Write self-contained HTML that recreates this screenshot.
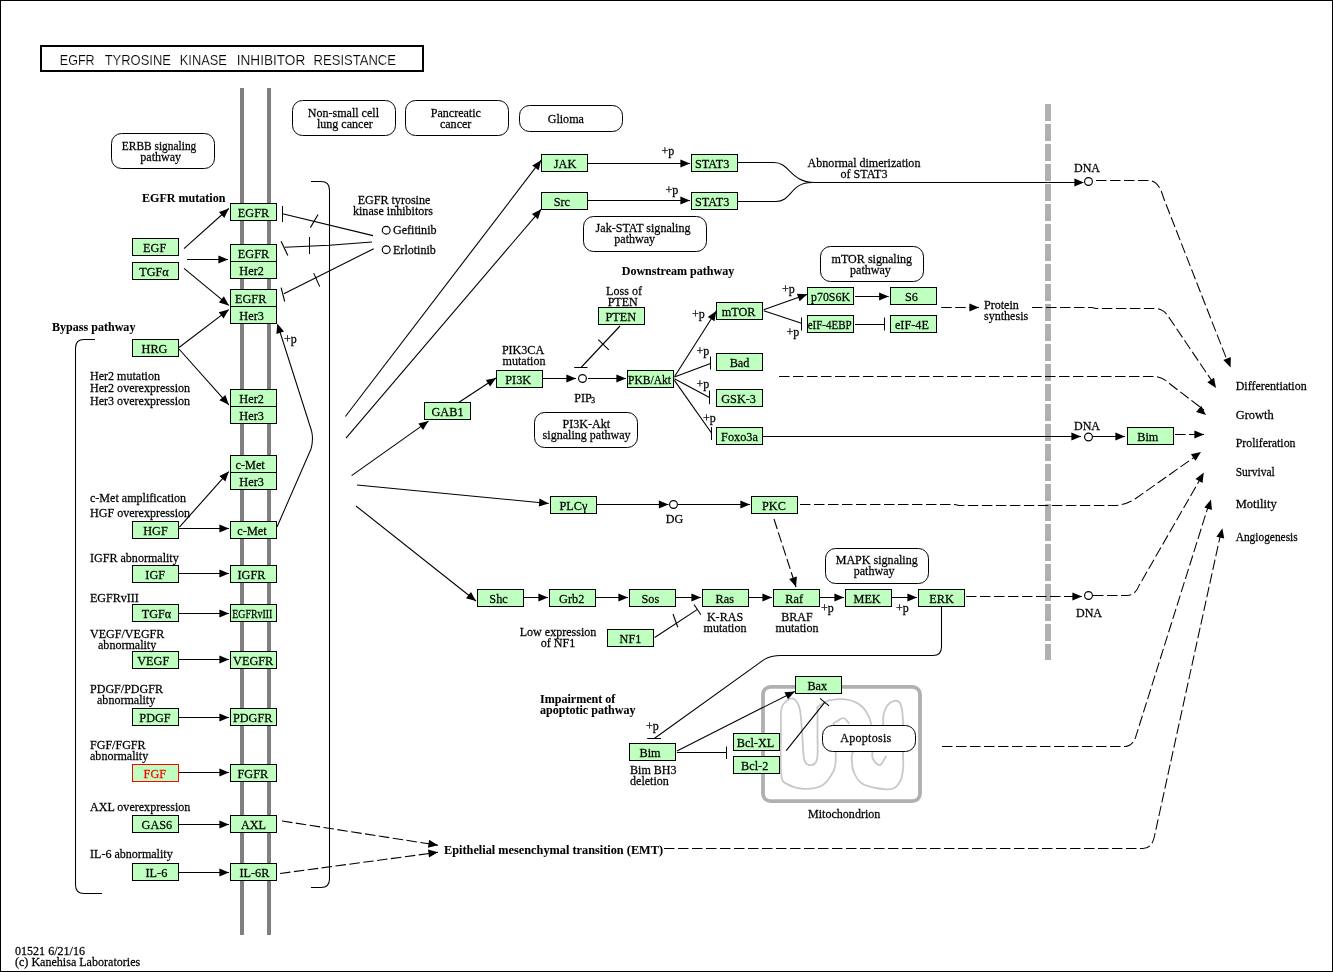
<!DOCTYPE html>
<html><head><meta charset="utf-8"><title>EGFR tyrosine kinase inhibitor resistance</title>
<style>
html,body{margin:0;padding:0;background:#fff;}
svg{display:block;font-family:"Liberation Serif",serif;font-size:13.33px;will-change:transform;}
svg text{stroke:#000;stroke-width:0.25px;}
svg text[font-weight="bold"]{stroke-width:0.08px;}
svg text[fill="#ff0000"]{stroke:#ff0000;}
svg text.ttl{font-family:"Liberation Sans",sans-serif;stroke:#fff;stroke-width:0.15px;}
</style></head><body>
<svg width="1333" height="972" viewBox="0 0 1333 972">
<rect x="0.5" y="0.5" width="1332" height="971" fill="#fff" stroke="#000" stroke-width="1" shape-rendering="crispEdges"/>
<rect x="41" y="46" width="382" height="25" fill="#fff" stroke="#000" stroke-width="2" shape-rendering="crispEdges"/>
<text x="59.8" y="65" font-size="14.2" textLength="34.8" lengthAdjust="spacingAndGlyphs" class="ttl">EGFR</text>
<text x="104.7" y="65" font-size="14.2" textLength="66.2" lengthAdjust="spacingAndGlyphs" class="ttl">TYROSINE</text>
<text x="179.8" y="65" font-size="14.2" textLength="47.1" lengthAdjust="spacingAndGlyphs" class="ttl">KINASE</text>
<text x="236.7" y="65" font-size="14.2" textLength="68.6" lengthAdjust="spacingAndGlyphs" class="ttl">INHIBITOR</text>
<text x="313.6" y="65" font-size="14.2" textLength="82.4" lengthAdjust="spacingAndGlyphs" class="ttl">RESISTANCE</text>
<rect x="240" y="88" width="4" height="847" fill="#808080" shape-rendering="crispEdges"/>
<rect x="267" y="88" width="4" height="847" fill="#808080" shape-rendering="crispEdges"/>
<rect x="1045" y="104" width="6" height="17" fill="#b0b0b0" shape-rendering="crispEdges"/>
<rect x="1045" y="124" width="6" height="17" fill="#b0b0b0" shape-rendering="crispEdges"/>
<rect x="1045" y="144" width="6" height="17" fill="#b0b0b0" shape-rendering="crispEdges"/>
<rect x="1045" y="164" width="6" height="17" fill="#b0b0b0" shape-rendering="crispEdges"/>
<rect x="1045" y="184" width="6" height="17" fill="#b0b0b0" shape-rendering="crispEdges"/>
<rect x="1045" y="204" width="6" height="17" fill="#b0b0b0" shape-rendering="crispEdges"/>
<rect x="1045" y="224" width="6" height="17" fill="#b0b0b0" shape-rendering="crispEdges"/>
<rect x="1045" y="244" width="6" height="17" fill="#b0b0b0" shape-rendering="crispEdges"/>
<rect x="1045" y="264" width="6" height="17" fill="#b0b0b0" shape-rendering="crispEdges"/>
<rect x="1045" y="284" width="6" height="17" fill="#b0b0b0" shape-rendering="crispEdges"/>
<rect x="1045" y="304" width="6" height="17" fill="#b0b0b0" shape-rendering="crispEdges"/>
<rect x="1045" y="324" width="6" height="17" fill="#b0b0b0" shape-rendering="crispEdges"/>
<rect x="1045" y="344" width="6" height="17" fill="#b0b0b0" shape-rendering="crispEdges"/>
<rect x="1045" y="364" width="6" height="17" fill="#b0b0b0" shape-rendering="crispEdges"/>
<rect x="1045" y="384" width="6" height="17" fill="#b0b0b0" shape-rendering="crispEdges"/>
<rect x="1045" y="404" width="6" height="17" fill="#b0b0b0" shape-rendering="crispEdges"/>
<rect x="1045" y="424" width="6" height="17" fill="#b0b0b0" shape-rendering="crispEdges"/>
<rect x="1045" y="444" width="6" height="17" fill="#b0b0b0" shape-rendering="crispEdges"/>
<rect x="1045" y="464" width="6" height="17" fill="#b0b0b0" shape-rendering="crispEdges"/>
<rect x="1045" y="484" width="6" height="17" fill="#b0b0b0" shape-rendering="crispEdges"/>
<rect x="1045" y="504" width="6" height="17" fill="#b0b0b0" shape-rendering="crispEdges"/>
<rect x="1045" y="524" width="6" height="17" fill="#b0b0b0" shape-rendering="crispEdges"/>
<rect x="1045" y="544" width="6" height="17" fill="#b0b0b0" shape-rendering="crispEdges"/>
<rect x="1045" y="564" width="6" height="17" fill="#b0b0b0" shape-rendering="crispEdges"/>
<rect x="1045" y="584" width="6" height="17" fill="#b0b0b0" shape-rendering="crispEdges"/>
<rect x="1045" y="604" width="6" height="17" fill="#b0b0b0" shape-rendering="crispEdges"/>
<rect x="1045" y="624" width="6" height="17" fill="#b0b0b0" shape-rendering="crispEdges"/>
<rect x="1045" y="644" width="6" height="16" fill="#b0b0b0" shape-rendering="crispEdges"/>
<rect x="763" y="686.8" width="157" height="114.4" rx="7.5" ry="7.5" fill="#fff" stroke="#b0b0b0" stroke-width="3.8"/>
<path d="M817.5,707.0 C817.5,711.8 817.5,727.2 817.5,735.8 C817.4,744.5 818.2,754.0 817.1,758.9 C816.1,763.8 813.0,765.0 810.9,765.1 C808.8,765.3 805.7,764.6 804.3,759.7 C802.9,754.8 803.0,743.9 802.3,735.8 C801.7,727.7 801.1,716.8 800.2,711.1 C799.3,705.5 798.3,704.2 796.9,702.1 C795.5,700.0 793.9,698.3 792.0,698.3 C790.0,698.3 787.2,700.2 785.4,702.1 C783.6,704.0 782.0,703.9 781.3,709.5 C780.5,715.1 780.9,724.9 780.9,735.8 C780.9,746.8 780.1,767.2 781.3,775.3 C782.4,783.4 784.0,782.1 787.9,784.4 C791.7,786.6 798.6,788.7 804.3,788.8 C810.1,789.0 817.6,788.0 822.4,785.2 C827.2,782.4 830.9,775.9 833.1,772.0 C835.3,768.2 835.2,765.7 835.6,762.2 C836.0,758.6 835.7,755.0 835.6,750.6 C835.4,746.3 835.2,740.1 834.8,735.8 C834.3,731.6 832.7,727.6 833.1,725.1 C833.5,722.7 835.4,722.2 837.2,721.0 C839.0,719.8 841.9,717.7 843.8,718.1 C845.7,718.4 847.9,722.2 848.7,723.0" fill="none" stroke="#c8c8c8" stroke-width="1.8" stroke-linecap="round"/>
<path d="M817.5,707.0 C818.3,706.5 820.5,704.8 822.4,703.7 C824.3,702.6 825.2,701.2 829.0,700.4 C832.8,699.7 840.8,698.9 845.5,699.3 C850.1,699.7 853.7,701.1 857.0,702.9 C860.3,704.8 862.9,706.8 865.2,710.3 C867.5,713.9 871.0,719.5 871.0,724.3 C871.0,729.1 868.2,734.5 865.2,739.1 C862.2,743.8 855.1,748.5 852.9,752.3 C850.7,756.1 851.9,758.9 852.0,762.2 C852.2,765.5 852.0,768.5 853.7,772.0 C855.3,775.6 857.8,780.8 861.9,783.6 C866.0,786.3 873.2,787.7 878.4,788.5 C883.6,789.3 889.5,789.9 893.2,788.5 C896.9,787.1 898.9,783.6 900.6,780.3 C902.2,777.0 902.6,773.4 903.1,768.7 C903.5,764.1 903.1,759.7 903.1,752.3 C903.1,744.9 903.2,731.2 903.1,724.3 C902.9,717.5 902.8,714.8 902.2,711.1 C901.7,707.5 901.1,704.3 899.8,702.6 C898.4,700.9 896.1,700.5 894.0,700.9 C892.0,701.4 889.2,703.1 887.4,705.4 C885.7,707.6 884.4,711.1 883.6,714.4 C882.9,717.7 883.6,721.0 883.0,725.1 C882.4,729.2 881.7,734.6 880.0,739.1 C878.3,743.7 873.7,748.9 872.6,752.3 C871.5,755.7 872.2,757.6 873.4,759.7 C874.7,761.8 878.0,765.7 880.0,765.1 C882.1,764.6 884.8,757.9 885.8,756.4" fill="none" stroke="#c8c8c8" stroke-width="1.8" stroke-linecap="round"/>
<rect x="292.5" y="100.5" width="103.0" height="35.0" rx="10" ry="10" fill="#fff" stroke="#000" stroke-width="1"/>
<text transform="translate(307.70 117.20) scale(0.905 1)">Non-small cell</text>
<text transform="translate(316.90 128.40) scale(0.905 1)">lung cancer</text>
<rect x="405.5" y="100.5" width="103.0" height="35.0" rx="10" ry="10" fill="#fff" stroke="#000" stroke-width="1"/>
<text transform="translate(430.70 117.20) scale(0.905 1)">Pancreatic</text>
<text transform="translate(439.90 128.40) scale(0.905 1)">cancer</text>
<rect x="519.5" y="105.5" width="103.0" height="26.0" rx="10" ry="10" fill="#fff" stroke="#000" stroke-width="1"/>
<text transform="translate(547.70 123.00) scale(0.905 1)">Glioma</text>
<rect x="111.5" y="133.5" width="103.0" height="35.0" rx="10" ry="10" fill="#fff" stroke="#000" stroke-width="1"/>
<text transform="translate(121.80 149.50) scale(0.905 1)" textLength="82.32" lengthAdjust="spacingAndGlyphs">ERBB signaling</text>
<text transform="translate(140.30 160.50) scale(0.905 1)">pathway</text>
<rect x="583.5" y="216.5" width="123.0" height="35.0" rx="10" ry="10" fill="#fff" stroke="#000" stroke-width="1"/>
<text transform="translate(595.60 232.40) scale(0.905 1)">Jak-STAT signaling</text>
<text transform="translate(614.30 243.40) scale(0.905 1)">pathway</text>
<rect x="820.5" y="246.5" width="103.0" height="35.0" rx="10" ry="10" fill="#fff" stroke="#000" stroke-width="1"/>
<text transform="translate(831.60 262.80) scale(0.905 1)">mTOR signaling</text>
<text transform="translate(850.00 273.90) scale(0.905 1)">pathway</text>
<rect x="534.5" y="412.5" width="103.0" height="35.0" rx="10" ry="10" fill="#fff" stroke="#000" stroke-width="1"/>
<text transform="translate(562.60 427.60) scale(0.905 1)">PI3K-Akt</text>
<text transform="translate(542.60 438.80) scale(0.905 1)">signaling pathway</text>
<rect x="825.5" y="548.5" width="103.0" height="35.0" rx="10" ry="10" fill="#fff" stroke="#000" stroke-width="1"/>
<text transform="translate(835.70 563.60) scale(0.905 1)">MAPK signaling</text>
<text transform="translate(853.70 574.70) scale(0.905 1)">pathway</text>
<rect x="822.5" y="725.5" width="93.0" height="26.0" rx="10" ry="10" fill="#fff" stroke="#000" stroke-width="1"/>
<text transform="translate(840.20 741.90) scale(0.905 1)" textLength="56.35" lengthAdjust="spacing">Apoptosis</text>
<path d="M311,181.5 H321 Q329.5,181.5 329.5,190 V879 Q329.5,887.5 321,887.5 H311" fill="none" stroke="#000" stroke-width="1.05"/>
<path d="M95,339.5 H84 Q75.5,339.5 75.5,348 V885 Q75.5,893.5 84,893.5 H102" fill="none" stroke="#000" stroke-width="1.05"/>
<line x1="184" y1="248.6" x2="228.8" y2="208.5" stroke="#000" stroke-width="1.1"/>
<polygon points="228.8,208.5 224.3,217.9 219.0,211.9" fill="#000"/>
<line x1="187" y1="259.5" x2="228" y2="259.5" stroke="#000" stroke-width="1"/>
<polygon points="228.0,259.5 218.4,263.5 218.4,255.5" fill="#000"/>
<line x1="184" y1="268.4" x2="228.8" y2="305.4" stroke="#000" stroke-width="1.1"/>
<polygon points="228.8,305.4 218.9,302.4 223.9,296.2" fill="#000"/>
<line x1="179" y1="347.5" x2="228.8" y2="309.6" stroke="#000" stroke-width="1.1"/>
<polygon points="228.8,309.6 223.6,318.6 218.7,312.2" fill="#000"/>
<line x1="179" y1="349" x2="228.8" y2="404.8" stroke="#000" stroke-width="1.1"/>
<polygon points="228.8,404.8 219.4,400.3 225.4,395.0" fill="#000"/>
<line x1="179.4" y1="527.2" x2="228.8" y2="471.6" stroke="#000" stroke-width="1.1"/>
<polygon points="228.8,471.6 225.4,481.4 219.4,476.1" fill="#000"/>
<line x1="179" y1="528.5" x2="229" y2="528.5" stroke="#000" stroke-width="1"/>
<polygon points="229.0,528.5 219.4,532.5 219.4,524.5" fill="#000"/>
<line x1="179" y1="573.5" x2="229" y2="573.5" stroke="#000" stroke-width="1"/>
<polygon points="229.0,573.5 219.4,577.5 219.4,569.5" fill="#000"/>
<line x1="179" y1="613.5" x2="229" y2="613.5" stroke="#000" stroke-width="1"/>
<polygon points="229.0,613.5 219.4,617.5 219.4,609.5" fill="#000"/>
<line x1="179" y1="659.5" x2="229" y2="659.5" stroke="#000" stroke-width="1"/>
<polygon points="229.0,659.5 219.4,663.5 219.4,655.5" fill="#000"/>
<line x1="179" y1="717.5" x2="229" y2="717.5" stroke="#000" stroke-width="1"/>
<polygon points="229.0,717.5 219.4,721.5 219.4,713.5" fill="#000"/>
<line x1="179" y1="772.5" x2="229" y2="772.5" stroke="#000" stroke-width="1"/>
<polygon points="229.0,772.5 219.4,776.5 219.4,768.5" fill="#000"/>
<line x1="179" y1="824.5" x2="229" y2="824.5" stroke="#000" stroke-width="1"/>
<polygon points="229.0,824.5 219.4,828.5 219.4,820.5" fill="#000"/>
<line x1="179" y1="872.5" x2="229" y2="872.5" stroke="#000" stroke-width="1"/>
<polygon points="229.0,872.5 219.4,876.5 219.4,868.5" fill="#000"/>
<path d="M277,527 L311,449 Q313.6,440 311.6,431 L280,332" fill="none" stroke="#000" stroke-width="1.05"/>
<polygon points="277.3,323.5 284.0,331.4 276.4,333.9" fill="#000"/>
<text transform="translate(284.00 342.50) scale(0.905 1)">+p</text>
<rect x="230.5" y="203.5" width="46" height="17" fill="#bfffbf" stroke="#000" stroke-width="1" shape-rendering="crispEdges"/>
<text transform="translate(253.50 216.50) scale(0.92 1)" text-anchor="middle">EGFR</text>
<rect x="132.5" y="238.5" width="46" height="17" fill="#bfffbf" stroke="#000" stroke-width="1" shape-rendering="crispEdges"/>
<text transform="translate(154.70 251.50) scale(0.92 1)" text-anchor="middle">EGF</text>
<rect x="132.5" y="262.5" width="46" height="17" fill="#bfffbf" stroke="#000" stroke-width="1" shape-rendering="crispEdges"/>
<text transform="translate(154.00 275.50) scale(0.92 1)" text-anchor="middle">TGF&#945;</text>
<rect x="230.5" y="244.5" width="46" height="17" fill="#bfffbf" stroke="#000" stroke-width="1" shape-rendering="crispEdges"/>
<text transform="translate(253.50 257.50) scale(0.92 1)" text-anchor="middle">EGFR</text>
<rect x="230.5" y="261.5" width="46" height="17" fill="#bfffbf" stroke="#000" stroke-width="1" shape-rendering="crispEdges"/>
<text transform="translate(251.60 274.50) scale(0.92 1)" text-anchor="middle">Her2</text>
<rect x="230.5" y="289.5" width="46" height="17" fill="#bfffbf" stroke="#000" stroke-width="1" shape-rendering="crispEdges"/>
<text transform="translate(250.70 302.50) scale(0.92 1)" text-anchor="middle">EGFR</text>
<rect x="230.5" y="306.5" width="46" height="17" fill="#bfffbf" stroke="#000" stroke-width="1" shape-rendering="crispEdges"/>
<text transform="translate(251.60 319.50) scale(0.92 1)" text-anchor="middle">Her3</text>
<rect x="132.5" y="339.5" width="46" height="17" fill="#bfffbf" stroke="#000" stroke-width="1" shape-rendering="crispEdges"/>
<text transform="translate(154.50 352.50) scale(0.92 1)" text-anchor="middle">HRG</text>
<rect x="230.5" y="389.5" width="46" height="17" fill="#bfffbf" stroke="#000" stroke-width="1" shape-rendering="crispEdges"/>
<text transform="translate(251.60 402.50) scale(0.92 1)" text-anchor="middle">Her2</text>
<rect x="230.5" y="406.5" width="46" height="17" fill="#bfffbf" stroke="#000" stroke-width="1" shape-rendering="crispEdges"/>
<text transform="translate(251.60 419.50) scale(0.92 1)" text-anchor="middle">Her3</text>
<rect x="230.5" y="455.5" width="46" height="17" fill="#bfffbf" stroke="#000" stroke-width="1" shape-rendering="crispEdges"/>
<text transform="translate(250.10 468.50) scale(0.92 1)" text-anchor="middle">c-Met</text>
<rect x="230.5" y="472.5" width="46" height="17" fill="#bfffbf" stroke="#000" stroke-width="1" shape-rendering="crispEdges"/>
<text transform="translate(251.60 485.50) scale(0.92 1)" text-anchor="middle">Her3</text>
<rect x="132.5" y="521.5" width="46" height="17" fill="#bfffbf" stroke="#000" stroke-width="1" shape-rendering="crispEdges"/>
<text transform="translate(155.50 534.50) scale(0.92 1)" text-anchor="middle">HGF</text>
<rect x="230.5" y="521.5" width="46" height="17" fill="#bfffbf" stroke="#000" stroke-width="1" shape-rendering="crispEdges"/>
<text transform="translate(252.00 534.50) scale(0.92 1)" text-anchor="middle">c-Met</text>
<rect x="132.5" y="565.5" width="46" height="17" fill="#bfffbf" stroke="#000" stroke-width="1" shape-rendering="crispEdges"/>
<text transform="translate(155.20 578.50) scale(0.92 1)" text-anchor="middle">IGF</text>
<rect x="230.5" y="565.5" width="46" height="17" fill="#bfffbf" stroke="#000" stroke-width="1" shape-rendering="crispEdges"/>
<text transform="translate(251.50 578.50) scale(0.92 1)" text-anchor="middle">IGFR</text>
<rect x="132.5" y="604.5" width="46" height="17" fill="#bfffbf" stroke="#000" stroke-width="1" shape-rendering="crispEdges"/>
<text transform="translate(156.50 617.50) scale(0.92 1)" text-anchor="middle">TGF&#945;</text>
<rect x="230.5" y="604.5" width="46" height="17" fill="#bfffbf" stroke="#000" stroke-width="1" shape-rendering="crispEdges"/>
<text transform="translate(252.30 617.50) scale(0.92 1)" textLength="43.48" lengthAdjust="spacingAndGlyphs" text-anchor="middle">EGFRvIII</text>
<rect x="132.5" y="651.5" width="46" height="17" fill="#bfffbf" stroke="#000" stroke-width="1" shape-rendering="crispEdges"/>
<text transform="translate(153.20 664.50) scale(0.92 1)" text-anchor="middle">VEGF</text>
<rect x="230.5" y="651.5" width="46" height="17" fill="#bfffbf" stroke="#000" stroke-width="1" shape-rendering="crispEdges"/>
<text transform="translate(253.20 664.50) scale(0.92 1)" text-anchor="middle">VEGFR</text>
<rect x="132.5" y="708.5" width="46" height="17" fill="#bfffbf" stroke="#000" stroke-width="1" shape-rendering="crispEdges"/>
<text transform="translate(155.00 721.50) scale(0.92 1)" text-anchor="middle">PDGF</text>
<rect x="230.5" y="708.5" width="46" height="17" fill="#bfffbf" stroke="#000" stroke-width="1" shape-rendering="crispEdges"/>
<text transform="translate(252.70 721.50) scale(0.92 1)" text-anchor="middle">PDGFR</text>
<rect x="132.5" y="764.5" width="46" height="17" fill="#bfffbf" stroke="#ff0000" stroke-width="1" shape-rendering="crispEdges"/>
<text transform="translate(154.80 777.50) scale(0.92 1)" fill="#ff0000" text-anchor="middle">FGF</text>
<rect x="230.5" y="764.5" width="46" height="17" fill="#bfffbf" stroke="#000" stroke-width="1" shape-rendering="crispEdges"/>
<text transform="translate(252.80 777.50) scale(0.92 1)" text-anchor="middle">FGFR</text>
<rect x="132.5" y="815.5" width="46" height="17" fill="#bfffbf" stroke="#000" stroke-width="1" shape-rendering="crispEdges"/>
<text transform="translate(156.90 828.50) scale(0.92 1)" text-anchor="middle">GAS6</text>
<rect x="230.5" y="815.5" width="46" height="17" fill="#bfffbf" stroke="#000" stroke-width="1" shape-rendering="crispEdges"/>
<text transform="translate(253.50 828.50) scale(0.92 1)" text-anchor="middle">AXL</text>
<rect x="132.5" y="863.5" width="46" height="17" fill="#bfffbf" stroke="#000" stroke-width="1" shape-rendering="crispEdges"/>
<text transform="translate(156.40 876.50) scale(0.92 1)" text-anchor="middle">IL-6</text>
<rect x="230.5" y="863.5" width="46" height="17" fill="#bfffbf" stroke="#000" stroke-width="1" shape-rendering="crispEdges"/>
<text transform="translate(254.40 876.50) scale(0.92 1)" text-anchor="middle">IL-6R</text>
<text transform="translate(142.00 202.00) scale(0.905 1)" font-weight="bold">EGFR mutation</text>
<text transform="translate(52.00 331.00) scale(0.905 1)" font-weight="bold">Bypass pathway</text>
<text transform="translate(90.00 380.00) scale(0.905 1)">Her2 mutation</text>
<text transform="translate(90.00 392.00) scale(0.905 1)">Her2 overexpression</text>
<text transform="translate(90.00 405.00) scale(0.905 1)">Her3 overexpression</text>
<text transform="translate(90.00 502.00) scale(0.905 1)">c-Met amplification</text>
<text transform="translate(90.00 517.00) scale(0.905 1)">HGF overexpression</text>
<text transform="translate(90.00 562.00) scale(0.905 1)">IGFR abnormality</text>
<text transform="translate(90.00 602.00) scale(0.905 1)">EGFRvIII</text>
<text transform="translate(90.00 638.00) scale(0.905 1)">VEGF/VEGFR</text>
<text transform="translate(98.00 649.00) scale(0.905 1)">abnormality</text>
<text transform="translate(90.00 693.00) scale(0.905 1)">PDGF/PDGFR</text>
<text transform="translate(97.00 704.00) scale(0.905 1)">abnormality</text>
<text transform="translate(90.00 749.00) scale(0.905 1)">FGF/FGFR</text>
<text transform="translate(90.00 760.00) scale(0.905 1)">abnormality</text>
<text transform="translate(90.00 811.00) scale(0.905 1)">AXL overexpression</text>
<text transform="translate(90.00 858.00) scale(0.905 1)">IL-6 abnormality</text>
<text transform="translate(394.00 204.00) scale(0.905 1)" text-anchor="middle">EGFR tyrosine</text>
<text transform="translate(393.00 215.00) scale(0.905 1)" text-anchor="middle">kinase inhibitors</text>
<circle cx="386.2" cy="230.2" r="3.9" fill="#fff" stroke="#000" stroke-width="1.15"/>
<text transform="translate(393.00 234.00) scale(0.905 1)">Gefitinib</text>
<circle cx="386.2" cy="249.7" r="3.9" fill="#fff" stroke="#000" stroke-width="1.15"/>
<text transform="translate(393.00 254.00) scale(0.905 1)">Erlotinib</text>
<line x1="373" y1="235.6" x2="282.5" y2="213.7" stroke="#000" stroke-width="1.1"/>
<line x1="282.5" y1="206" x2="282.5" y2="222" stroke="#000" stroke-width="1"/>
<line x1="318" y1="214.5" x2="310.4" y2="227.6" stroke="#000" stroke-width="1.1"/>
<path d="M372,242.1 L329.4,245.3 L284.7,247.2" fill="none" stroke="#000" stroke-width="1.05"/>
<line x1="281.1" y1="241.3" x2="287.8" y2="255.4" stroke="#000" stroke-width="1.1"/>
<line x1="309.5" y1="237" x2="309.5" y2="254" stroke="#000" stroke-width="1"/>
<line x1="373.7" y1="248.7" x2="283.9" y2="293.8" stroke="#000" stroke-width="1.1"/>
<line x1="281.1" y1="287.6" x2="284.7" y2="301.5" stroke="#000" stroke-width="1.1"/>
<line x1="313.7" y1="273.1" x2="319.7" y2="286.6" stroke="#000" stroke-width="1.1"/>
<line x1="345.4" y1="416.5" x2="541.2" y2="160.2" stroke="#000" stroke-width="1.1"/>
<polygon points="541.2,160.2 538.6,170.3 532.2,165.4" fill="#000"/>
<line x1="346" y1="438.2" x2="541.2" y2="209.3" stroke="#000" stroke-width="1.1"/>
<polygon points="541.2,209.3 538.0,219.2 531.9,214.0" fill="#000"/>
<line x1="351.6" y1="475.6" x2="428.5" y2="421.1" stroke="#000" stroke-width="1.1"/>
<polygon points="428.5,421.1 423.0,429.9 418.4,423.4" fill="#000"/>
<line x1="357" y1="485" x2="548.7" y2="503.5" stroke="#000" stroke-width="1.1"/>
<polygon points="548.7,503.5 538.8,506.6 539.5,498.6" fill="#000"/>
<line x1="356" y1="506" x2="476" y2="601" stroke="#000" stroke-width="1.1"/>
<polygon points="476.0,601.0 466.0,598.2 471.0,591.9" fill="#000"/>
<rect x="541.5" y="154.5" width="46" height="17" fill="#bfffbf" stroke="#000" stroke-width="1" shape-rendering="crispEdges"/>
<text transform="translate(565.00 167.50) scale(0.92 1)" text-anchor="middle">JAK</text>
<rect x="541.5" y="192.5" width="46" height="17" fill="#bfffbf" stroke="#000" stroke-width="1" shape-rendering="crispEdges"/>
<text transform="translate(561.80 205.50) scale(0.92 1)" text-anchor="middle">Src</text>
<rect x="691.5" y="154.5" width="46" height="17" fill="#bfffbf" stroke="#000" stroke-width="1" shape-rendering="crispEdges"/>
<text transform="translate(712.20 167.50) scale(0.92 1)" text-anchor="middle">STAT3</text>
<rect x="691.5" y="192.5" width="46" height="17" fill="#bfffbf" stroke="#000" stroke-width="1" shape-rendering="crispEdges"/>
<text transform="translate(712.20 205.50) scale(0.92 1)" text-anchor="middle">STAT3</text>
<line x1="588" y1="163.5" x2="690" y2="163.5" stroke="#000" stroke-width="1"/>
<polygon points="690.0,163.5 680.4,167.5 680.4,159.5" fill="#000"/>
<line x1="588" y1="200.5" x2="690" y2="200.5" stroke="#000" stroke-width="1"/>
<polygon points="690.0,200.5 680.4,204.5 680.4,196.5" fill="#000"/>
<text transform="translate(661.50 154.50) scale(0.905 1)">+p</text>
<text transform="translate(665.50 194.30) scale(0.905 1)">+p</text>
<path d="M738,162.5 H774 C790,162.5 790,182.5 815,182.5 H1078" fill="none" stroke="#000" stroke-width="1.05"/>
<path d="M738,201.5 H776 C792,201.5 790,182.5 812,182.5" fill="none" stroke="#000" stroke-width="1.05"/>
<polygon points="1084.0,182.5 1074.4,186.5 1074.4,178.5" fill="#000"/>
<circle cx="1088.5" cy="181.5" r="3.9" fill="#fff" stroke="#000" stroke-width="1.15"/>
<text transform="translate(1087.00 172.00) scale(0.905 1)" text-anchor="middle">DNA</text>
<text transform="translate(864.00 167.00) scale(0.905 1)" text-anchor="middle">Abnormal dimerization</text>
<text transform="translate(864.00 178.00) scale(0.905 1)" text-anchor="middle">of STAT3</text>
<path d="M1096,180.5 H1149 Q1159,181 1163.5,197.8 L1227,360" fill="none" stroke="#000" stroke-width="1.05" stroke-dasharray="10.5,3.5"/>
<polygon points="1230.6,367.5 1223.4,360.0 1230.8,357.1" fill="#000"/>
<text transform="translate(678.00 275.00) scale(0.905 1)" font-weight="bold" text-anchor="middle">Downstream pathway</text>
<rect x="424.5" y="402.5" width="46" height="17" fill="#bfffbf" stroke="#000" stroke-width="1" shape-rendering="crispEdges"/>
<text transform="translate(447.50 415.50) scale(0.92 1)" text-anchor="middle">GAB1</text>
<rect x="496.5" y="370.5" width="46" height="17" fill="#bfffbf" stroke="#000" stroke-width="1" shape-rendering="crispEdges"/>
<text transform="translate(518.20 383.50) scale(0.92 1)" text-anchor="middle">PI3K</text>
<rect x="598.5" y="307.5" width="46" height="17" fill="#bfffbf" stroke="#000" stroke-width="1" shape-rendering="crispEdges"/>
<text transform="translate(620.80 320.50) scale(0.92 1)" text-anchor="middle">PTEN</text>
<rect x="627.5" y="370.5" width="46" height="17" fill="#bfffbf" stroke="#000" stroke-width="1" shape-rendering="crispEdges"/>
<text transform="translate(649.50 383.50) scale(0.92 1)" textLength="46.74" lengthAdjust="spacingAndGlyphs" text-anchor="middle">PKB/Akt</text>
<rect x="716.5" y="302.5" width="46" height="17" fill="#bfffbf" stroke="#000" stroke-width="1" shape-rendering="crispEdges"/>
<text transform="translate(738.60 315.50) scale(0.92 1)" text-anchor="middle">mTOR</text>
<rect x="807.5" y="287.5" width="46" height="17" fill="#bfffbf" stroke="#000" stroke-width="1" shape-rendering="crispEdges"/>
<text transform="translate(830.50 300.50) scale(0.92 1)" textLength="42.39" lengthAdjust="spacingAndGlyphs" text-anchor="middle">p70S6K</text>
<rect x="807.5" y="315.5" width="46" height="17" fill="#bfffbf" stroke="#000" stroke-width="1" shape-rendering="crispEdges"/>
<text transform="translate(829.70 328.50) scale(0.92 1)" textLength="47.83" lengthAdjust="spacingAndGlyphs" text-anchor="middle">eIF-4EBP</text>
<rect x="890.5" y="287.5" width="46" height="17" fill="#bfffbf" stroke="#000" stroke-width="1" shape-rendering="crispEdges"/>
<text transform="translate(911.40 300.50) scale(0.92 1)" text-anchor="middle">S6</text>
<rect x="890.5" y="315.5" width="46" height="17" fill="#bfffbf" stroke="#000" stroke-width="1" shape-rendering="crispEdges"/>
<text transform="translate(911.90 328.50) scale(0.92 1)" text-anchor="middle">eIF-4E</text>
<rect x="716.5" y="353.5" width="46" height="17" fill="#bfffbf" stroke="#000" stroke-width="1" shape-rendering="crispEdges"/>
<text transform="translate(739.50 366.50) scale(0.92 1)" text-anchor="middle">Bad</text>
<rect x="716.5" y="389.5" width="46" height="17" fill="#bfffbf" stroke="#000" stroke-width="1" shape-rendering="crispEdges"/>
<text transform="translate(738.60 402.50) scale(0.92 1)" text-anchor="middle">GSK-3</text>
<rect x="716.5" y="427.5" width="46" height="17" fill="#bfffbf" stroke="#000" stroke-width="1" shape-rendering="crispEdges"/>
<text transform="translate(739.50 440.50) scale(0.92 1)" text-anchor="middle">Foxo3a</text>
<rect x="1127.5" y="427.5" width="46" height="17" fill="#bfffbf" stroke="#000" stroke-width="1" shape-rendering="crispEdges"/>
<text transform="translate(1147.80 440.50) scale(0.92 1)" text-anchor="middle">Bim</text>
<line x1="459" y1="402.2" x2="496" y2="378" stroke="#000" stroke-width="1.1"/>
<polygon points="496.0,378.0 490.2,386.6 485.8,379.9" fill="#000"/>
<line x1="543" y1="378.5" x2="576" y2="378.5" stroke="#000" stroke-width="1"/>
<polygon points="576.0,378.5 566.4,382.5 566.4,374.5" fill="#000"/>
<circle cx="582.5" cy="378.5" r="3.9" fill="#fff" stroke="#000" stroke-width="1.15"/>
<line x1="588" y1="378.5" x2="626" y2="378.5" stroke="#000" stroke-width="1"/>
<polygon points="626.0,378.5 616.4,382.5 616.4,374.5" fill="#000"/>
<text transform="translate(574.20 401.80) scale(0.905 1)">PIP</text>
<text transform="translate(591.00 402.50) scale(0.905 1)" font-size="9">3</text>
<text transform="translate(523.00 354.00) scale(0.905 1)" text-anchor="middle">PIK3CA</text>
<text transform="translate(524.00 365.00) scale(0.905 1)" text-anchor="middle">mutation</text>
<text transform="translate(624.00 295.00) scale(0.905 1)" text-anchor="middle">Loss of</text>
<text transform="translate(622.70 306.00) scale(0.905 1)" text-anchor="middle">PTEN</text>
<line x1="620" y1="326" x2="581" y2="367.5" stroke="#000" stroke-width="1.1"/>
<line x1="574.2" y1="367.5" x2="587.5" y2="367.5" stroke="#000" stroke-width="1"/>
<line x1="598.3" y1="339.6" x2="608.8" y2="349.8" stroke="#000" stroke-width="1.1"/>
<line x1="674.6" y1="376.5" x2="716.3" y2="311" stroke="#000" stroke-width="1.1"/>
<polygon points="716.3,311.0 714.5,321.2 707.8,316.9" fill="#000"/>
<text transform="translate(692.00 317.50) scale(0.905 1)">+p</text>
<line x1="674.4" y1="377" x2="710.5" y2="363.4" stroke="#000" stroke-width="1.1"/>
<line x1="710.5" y1="356.5" x2="710.5" y2="369.5" stroke="#000" stroke-width="1"/>
<text transform="translate(696.50 355.00) scale(0.905 1)">+p</text>
<line x1="674.4" y1="378.7" x2="709.5" y2="397.4" stroke="#000" stroke-width="1.1"/>
<line x1="709.5" y1="390.5" x2="709.5" y2="404.2" stroke="#000" stroke-width="1"/>
<text transform="translate(696.50 388.00) scale(0.905 1)">+p</text>
<line x1="674.4" y1="380.4" x2="711.5" y2="433" stroke="#000" stroke-width="1.1"/>
<line x1="711.5" y1="427" x2="711.5" y2="440" stroke="#000" stroke-width="1"/>
<text transform="translate(703.00 422.00) scale(0.905 1)">+p</text>
<line x1="763.7" y1="309.7" x2="807.3" y2="294.3" stroke="#000" stroke-width="1.1"/>
<polygon points="807.3,294.3 799.6,301.3 796.9,293.7" fill="#000"/>
<text transform="translate(782.00 292.80) scale(0.905 1)">+p</text>
<line x1="763.7" y1="310.8" x2="801.5" y2="323.3" stroke="#000" stroke-width="1.1"/>
<line x1="801.5" y1="317.5" x2="801.5" y2="330.5" stroke="#000" stroke-width="1"/>
<text transform="translate(786.50 335.60) scale(0.905 1)">+p</text>
<line x1="855" y1="296.5" x2="888.7" y2="296.5" stroke="#000" stroke-width="1"/>
<polygon points="888.7,296.5 879.1,300.5 879.1,292.5" fill="#000"/>
<line x1="855" y1="324.5" x2="884.5" y2="324.5" stroke="#000" stroke-width="1"/>
<line x1="884.5" y1="317.5" x2="884.5" y2="330.5" stroke="#000" stroke-width="1"/>
<line x1="941.2" y1="307.5" x2="979" y2="307.5" stroke="#000" stroke-width="1" stroke-dasharray="10.5,3.5"/>
<polygon points="979.0,307.5 969.4,311.5 969.4,303.5" fill="#000"/>
<text transform="translate(984.00 309.00) scale(0.905 1)">Protein</text>
<text transform="translate(984.00 320.00) scale(0.905 1)">synthesis</text>
<path d="M1032,307.5 H1092 L1096,308.5 H1155 Q1163,308.5 1168,316 L1214,384" fill="none" stroke="#000" stroke-width="1.05" stroke-dasharray="10.5,3.5"/>
<polygon points="1216.0,388.0 1207.3,382.2 1214.0,377.8" fill="#000"/>
<path d="M779,376.5 H1155 Q1163,377 1170,384 L1204,410" fill="none" stroke="#000" stroke-width="1.05" stroke-dasharray="10.5,3.5"/>
<polygon points="1206.0,415.0 1196.1,411.9 1201.2,405.8" fill="#000"/>
<line x1="763" y1="436.5" x2="1081" y2="436.5" stroke="#000" stroke-width="1"/>
<polygon points="1081.0,436.5 1071.4,440.5 1071.4,432.5" fill="#000"/>
<circle cx="1088.5" cy="437" r="3.9" fill="#fff" stroke="#000" stroke-width="1.15"/>
<line x1="1093" y1="436.5" x2="1125" y2="436.5" stroke="#000" stroke-width="1"/>
<polygon points="1125.0,436.5 1115.4,440.5 1115.4,432.5" fill="#000"/>
<text transform="translate(1087.00 430.00) scale(0.905 1)" text-anchor="middle">DNA</text>
<line x1="1175" y1="434.5" x2="1204" y2="434.5" stroke="#000" stroke-width="1" stroke-dasharray="10.5,3.5"/>
<polygon points="1204.0,434.5 1194.4,438.5 1194.4,430.5" fill="#000"/>
<rect x="550.5" y="496.5" width="46" height="17" fill="#bfffbf" stroke="#000" stroke-width="1" shape-rendering="crispEdges"/>
<text transform="translate(573.50 509.50) scale(0.92 1)" text-anchor="middle">PLC&#947;</text>
<rect x="751.5" y="496.5" width="46" height="17" fill="#bfffbf" stroke="#000" stroke-width="1" shape-rendering="crispEdges"/>
<text transform="translate(773.90 509.50) scale(0.92 1)" text-anchor="middle">PKC</text>
<line x1="597" y1="504.5" x2="668.5" y2="504.5" stroke="#000" stroke-width="1"/>
<polygon points="668.5,504.5 658.9,508.5 658.9,500.5" fill="#000"/>
<circle cx="673.5" cy="504.5" r="3.9" fill="#fff" stroke="#000" stroke-width="1.15"/>
<line x1="678" y1="504.5" x2="750" y2="504.5" stroke="#000" stroke-width="1"/>
<polygon points="750.0,504.5 740.4,508.5 740.4,500.5" fill="#000"/>
<text transform="translate(674.50 522.60) scale(0.905 1)" text-anchor="middle">DG</text>
<path d="M800,504.5 H955 L959,505.5 H1115 Q1125,505 1135,499 L1196,456" fill="none" stroke="#000" stroke-width="1.05" stroke-dasharray="10.5,3.5"/>
<polygon points="1201.0,452.0 1195.5,460.8 1190.9,454.3" fill="#000"/>
<line x1="774" y1="519" x2="796" y2="587" stroke="#000" stroke-width="1.1" stroke-dasharray="10.5,3.5"/>
<polygon points="796.0,587.0 789.2,579.1 796.9,576.6" fill="#000"/>
<rect x="477.5" y="589.5" width="46" height="17" fill="#bfffbf" stroke="#000" stroke-width="1" shape-rendering="crispEdges"/>
<text transform="translate(498.50 602.50) scale(0.92 1)" text-anchor="middle">Shc</text>
<rect x="549.5" y="589.5" width="46" height="17" fill="#bfffbf" stroke="#000" stroke-width="1" shape-rendering="crispEdges"/>
<text transform="translate(571.70 602.50) scale(0.92 1)" text-anchor="middle">Grb2</text>
<rect x="629.5" y="589.5" width="46" height="17" fill="#bfffbf" stroke="#000" stroke-width="1" shape-rendering="crispEdges"/>
<text transform="translate(650.40 602.50) scale(0.92 1)" text-anchor="middle">Sos</text>
<rect x="702.5" y="589.5" width="46" height="17" fill="#bfffbf" stroke="#000" stroke-width="1" shape-rendering="crispEdges"/>
<text transform="translate(724.70 602.50) scale(0.92 1)" text-anchor="middle">Ras</text>
<rect x="773.5" y="589.5" width="46" height="17" fill="#bfffbf" stroke="#000" stroke-width="1" shape-rendering="crispEdges"/>
<text transform="translate(794.20 602.50) scale(0.92 1)" text-anchor="middle">Raf</text>
<rect x="845.5" y="589.5" width="46" height="17" fill="#bfffbf" stroke="#000" stroke-width="1" shape-rendering="crispEdges"/>
<text transform="translate(867.10 602.50) scale(0.92 1)" text-anchor="middle">MEK</text>
<rect x="918.5" y="589.5" width="46" height="17" fill="#bfffbf" stroke="#000" stroke-width="1" shape-rendering="crispEdges"/>
<text transform="translate(941.50 602.50) scale(0.92 1)" text-anchor="middle">ERK</text>
<rect x="607.5" y="629.5" width="46" height="17" fill="#bfffbf" stroke="#000" stroke-width="1" shape-rendering="crispEdges"/>
<text transform="translate(630.50 642.50) scale(0.92 1)" text-anchor="middle">NF1</text>
<line x1="524" y1="597.5" x2="548" y2="597.5" stroke="#000" stroke-width="1"/>
<polygon points="548.0,597.5 538.4,601.5 538.4,593.5" fill="#000"/>
<line x1="596" y1="597.5" x2="628" y2="597.5" stroke="#000" stroke-width="1"/>
<polygon points="628.0,597.5 618.4,601.5 618.4,593.5" fill="#000"/>
<line x1="676" y1="597.5" x2="701" y2="597.5" stroke="#000" stroke-width="1"/>
<polygon points="701.0,597.5 691.4,601.5 691.4,593.5" fill="#000"/>
<line x1="749" y1="597.5" x2="772" y2="597.5" stroke="#000" stroke-width="1"/>
<polygon points="772.0,597.5 762.4,601.5 762.4,593.5" fill="#000"/>
<line x1="820" y1="597.5" x2="844" y2="597.5" stroke="#000" stroke-width="1"/>
<polygon points="844.0,597.5 834.4,601.5 834.4,593.5" fill="#000"/>
<line x1="892" y1="597.5" x2="917" y2="597.5" stroke="#000" stroke-width="1"/>
<polygon points="917.0,597.5 907.4,601.5 907.4,593.5" fill="#000"/>
<text transform="translate(821.00 611.60) scale(0.905 1)">+p</text>
<text transform="translate(896.00 611.60) scale(0.905 1)">+p</text>
<line x1="654.7" y1="637.5" x2="697.1" y2="609.6" stroke="#000" stroke-width="1.1"/>
<line x1="694" y1="604.5" x2="700.9" y2="614.7" stroke="#000" stroke-width="1.1"/>
<line x1="673" y1="614" x2="677.8" y2="627.3" stroke="#000" stroke-width="1.1"/>
<text transform="translate(725.00 621.00) scale(0.905 1)" text-anchor="middle">K-RAS</text>
<text transform="translate(725.00 632.00) scale(0.905 1)" text-anchor="middle">mutation</text>
<text transform="translate(797.00 621.00) scale(0.905 1)" text-anchor="middle">BRAF</text>
<text transform="translate(797.00 632.00) scale(0.905 1)" text-anchor="middle">mutation</text>
<text transform="translate(558.00 636.00) scale(0.905 1)" text-anchor="middle">Low expression</text>
<text transform="translate(558.00 647.00) scale(0.905 1)" text-anchor="middle">of NF1</text>
<line x1="966" y1="596.5" x2="1082" y2="596.5" stroke="#000" stroke-width="1" stroke-dasharray="10.5,3.5"/>
<polygon points="1082.0,596.5 1072.4,600.5 1072.4,592.5" fill="#000"/>
<circle cx="1088.5" cy="595.5" r="3.9" fill="#fff" stroke="#000" stroke-width="1.15"/>
<text transform="translate(1089.00 617.00) scale(0.905 1)" text-anchor="middle">DNA</text>
<path d="M1093,595.5 H1127 Q1135,595.5 1139,585.6 L1200,479.5" fill="none" stroke="#000" stroke-width="1.05" stroke-dasharray="10.5,3.5"/>
<polygon points="1203.8,472.6 1202.5,482.9 1195.5,478.9" fill="#000"/>
<path d="M941.5,607 V647 Q941.5,655.5 933,655.5 H781 Q771,655.5 764,659.6 L654.6,738.2" fill="none" stroke="#000" stroke-width="1.05"/>
<line x1="647.2" y1="738.5" x2="661" y2="738.5" stroke="#000" stroke-width="1"/>
<text transform="translate(646.00 729.50) scale(0.905 1)">+p</text>
<rect x="795.5" y="676.5" width="46" height="17" fill="#bfffbf" stroke="#000" stroke-width="1" shape-rendering="crispEdges"/>
<text transform="translate(817.30 689.50) scale(0.92 1)" text-anchor="middle">Bax</text>
<rect x="629.5" y="743.5" width="46" height="17" fill="#bfffbf" stroke="#000" stroke-width="1" shape-rendering="crispEdges"/>
<text transform="translate(650.00 756.50) scale(0.92 1)" text-anchor="middle">Bim</text>
<rect x="733.5" y="733.5" width="46" height="17" fill="#bfffbf" stroke="#000" stroke-width="1" shape-rendering="crispEdges"/>
<text transform="translate(755.50 746.50) scale(0.92 1)" text-anchor="middle">Bcl-XL</text>
<rect x="733.5" y="756.5" width="46" height="17" fill="#bfffbf" stroke="#000" stroke-width="1" shape-rendering="crispEdges"/>
<text transform="translate(754.70 769.50) scale(0.92 1)" text-anchor="middle">Bcl-2</text>
<line x1="677" y1="751" x2="794.8" y2="691.4" stroke="#000" stroke-width="1.1"/>
<polygon points="794.8,691.4 788.0,699.3 784.4,692.2" fill="#000"/>
<line x1="677" y1="752.5" x2="726.5" y2="752.5" stroke="#000" stroke-width="1"/>
<line x1="726.5" y1="746.5" x2="726.5" y2="759" stroke="#000" stroke-width="1"/>
<line x1="786.2" y1="750.6" x2="824.9" y2="702.1" stroke="#000" stroke-width="1.1"/>
<line x1="820" y1="698.3" x2="829" y2="705.9" stroke="#000" stroke-width="1.1"/>
<text transform="translate(630.00 774.00) scale(0.905 1)">Bim BH3</text>
<text transform="translate(630.00 785.00) scale(0.905 1)">deletion</text>
<text transform="translate(540.00 703.00) scale(0.905 1)" font-weight="bold">Impairment of</text>
<text transform="translate(540.00 714.00) scale(0.905 1)" font-weight="bold">apoptotic pathway</text>
<text transform="translate(808.00 817.50) scale(0.905 1)">Mitochondrion</text>
<path d="M942,746.5 H1125 Q1133.5,746 1136.4,734.7 L1208,507" fill="none" stroke="#000" stroke-width="1.05" stroke-dasharray="10.5,3.5"/>
<polygon points="1211.0,499.6 1211.9,510.0 1204.3,507.5" fill="#000"/>
<text transform="translate(444.00 854.00) scale(0.905 1)" font-weight="bold" textLength="241.99" lengthAdjust="spacingAndGlyphs">Epithelial mesenchymal transition (EMT)</text>
<line x1="282" y1="821" x2="438" y2="845.2" stroke="#000" stroke-width="1.1" stroke-dasharray="10.5,3.5"/>
<polygon points="438.0,845.2 427.9,847.7 429.1,839.8" fill="#000"/>
<line x1="280" y1="873.5" x2="438" y2="852.3" stroke="#000" stroke-width="1.1" stroke-dasharray="10.5,3.5"/>
<polygon points="438.0,852.3 429.0,857.5 428.0,849.6" fill="#000"/>
<path d="M664,848.5 H1143 Q1152,848.5 1154.5,836 L1220,537" fill="none" stroke="#000" stroke-width="1.05" stroke-dasharray="10.5,3.5"/>
<polygon points="1222.4,528.3 1224.2,538.5 1216.4,536.8" fill="#000"/>
<text transform="translate(1235.70 390.00) scale(0.905 1)" textLength="78.45" lengthAdjust="spacingAndGlyphs">Differentiation</text>
<text transform="translate(1235.70 419.00) scale(0.905 1)" textLength="41.99" lengthAdjust="spacingAndGlyphs">Growth</text>
<text transform="translate(1235.70 447.00) scale(0.905 1)" textLength="66.08" lengthAdjust="spacingAndGlyphs">Proliferation</text>
<text transform="translate(1235.70 476.00) scale(0.905 1)" textLength="43.09" lengthAdjust="spacingAndGlyphs">Survival</text>
<text transform="translate(1235.70 508.00) scale(0.905 1)" textLength="45.30" lengthAdjust="spacingAndGlyphs">Motility</text>
<text transform="translate(1235.70 541.00) scale(0.905 1)" textLength="68.51" lengthAdjust="spacingAndGlyphs">Angiogenesis</text>
<text transform="translate(15.00 955.00) scale(0.905 1)">01521 6/21/16</text>
<text transform="translate(15.00 966.00) scale(0.905 1)">(c) Kanehisa Laboratories</text>
</svg>
</body></html>
